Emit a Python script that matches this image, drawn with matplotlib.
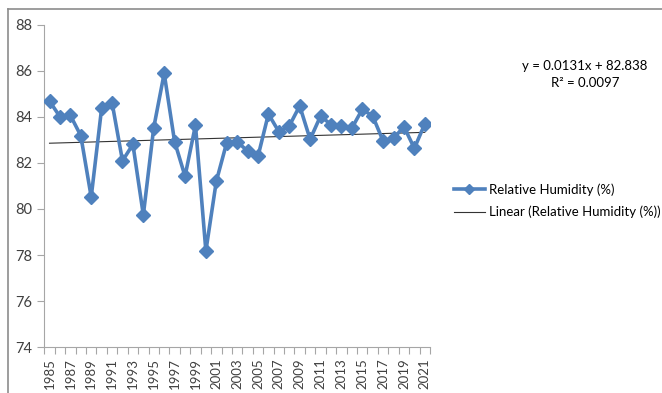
import numpy as np
import matplotlib.pyplot as plt
from matplotlib.lines import Line2D

plt.rcParams['font.family'] = ['Lato', 'DejaVu Sans']

# Jahreswerte der relativen Luftfeuchte
years = list(range(1985, 2022))
humidity = [84.68, 84.00, 84.06, 83.18, 80.52, 84.37, 84.61, 82.09, 82.80, 79.74,
            83.53, 85.88, 82.92, 81.42, 83.63, 78.18, 81.20, 82.88, 82.92, 82.51,
            82.28, 84.12, 83.35, 83.60, 84.47, 83.02, 84.03, 83.66, 83.60, 83.50,
            84.32, 84.03, 82.95, 83.06, 83.57, 82.63, 83.69]

# Linearer Trend (x = 1..n)
slope = 0.0131
intercept = 82.838
r_squared = 0.0097

blue = '#4F81BD'
axis_grey = '#A6A6A6'
text_col = '#404040'

fig = plt.figure(figsize=(6.62, 3.93), dpi=100)
ax = fig.add_axes([44.3 / 662, 1 - 347.3 / 393, (430 - 44.3) / 662, (347.3 - 24.5) / 393])

x = np.arange(1, len(years) + 1)
ax.plot(x, humidity, color=blue, lw=2.6, marker='D', markersize=7.5,
        markeredgecolor=blue, label='Relative Humidity (%)', zorder=3)

trend = slope * x + intercept
ax.plot([x[0], x[-1]], [trend[0], trend[-1]], color='#333333', lw=0.8,
        label='Linear (Relative Humidity (%))', zorder=2)

ax.set_xlim(0.5, len(years) + 0.5)
ax.set_ylim(74, 88)
ax.set_yticks(np.arange(74, 89, 2))
ax.tick_params(axis='y', labelsize=10.5, colors=axis_grey, labelcolor=text_col,
               length=5, direction='out', pad=4)

# Kategorie-Achse: Striche zwischen den Jahren, Beschriftung jedes zweite Jahr
ax.set_xticks(np.arange(0.5, len(years) + 1, 1))
ax.set_xticklabels([])
ax.tick_params(axis='x', which='major', colors=axis_grey, length=5, direction='out')
ax.set_xticks(x[::2], minor=True)
ax.set_xticklabels([str(y) for y in years[::2]], minor=True, rotation=90,
                   fontsize=9.5, color=text_col)
ax.tick_params(axis='x', which='minor', length=0, pad=8)

for side in ['top', 'right']:
    ax.spines[side].set_visible(False)
for side in ['left', 'bottom']:
    ax.spines[side].set_color(axis_grey)
    ax.spines[side].set_linewidth(0.8)

fig.text(585 / 662, 1 - 66 / 393, f'y = {slope}x + {intercept}', ha='center',
         va='center', fontsize=9.5, color='black')
fig.text(585 / 662, 1 - 83 / 393, f'R² = {r_squared}', ha='center',
         va='center', fontsize=9.5, color='black')

handles = [Line2D([], [], color=blue, lw=2.6, marker='D', markersize=5),
           Line2D([], [], color='#333333', lw=0.8)]
fig.legend(handles, ['Relative Humidity (%)', 'Linear (Relative Humidity (%))'],
           loc='center left', bbox_to_anchor=(447 / 662, 1 - 201 / 393),
           frameon=False, fontsize=9.5, handlelength=2.4, handletextpad=0.3,
           labelspacing=0.75, borderpad=0)

# Rahmen oben und links
fig.add_artist(Line2D([8 / 662, 1], [1 - 8.5 / 393, 1 - 8.5 / 393], color='#8C8C8C', lw=1.2))
fig.add_artist(Line2D([8 / 662, 8 / 662], [0, 1 - 8.5 / 393], color='#8C8C8C', lw=1.2))

fig.savefig('out.png', dpi=100)
